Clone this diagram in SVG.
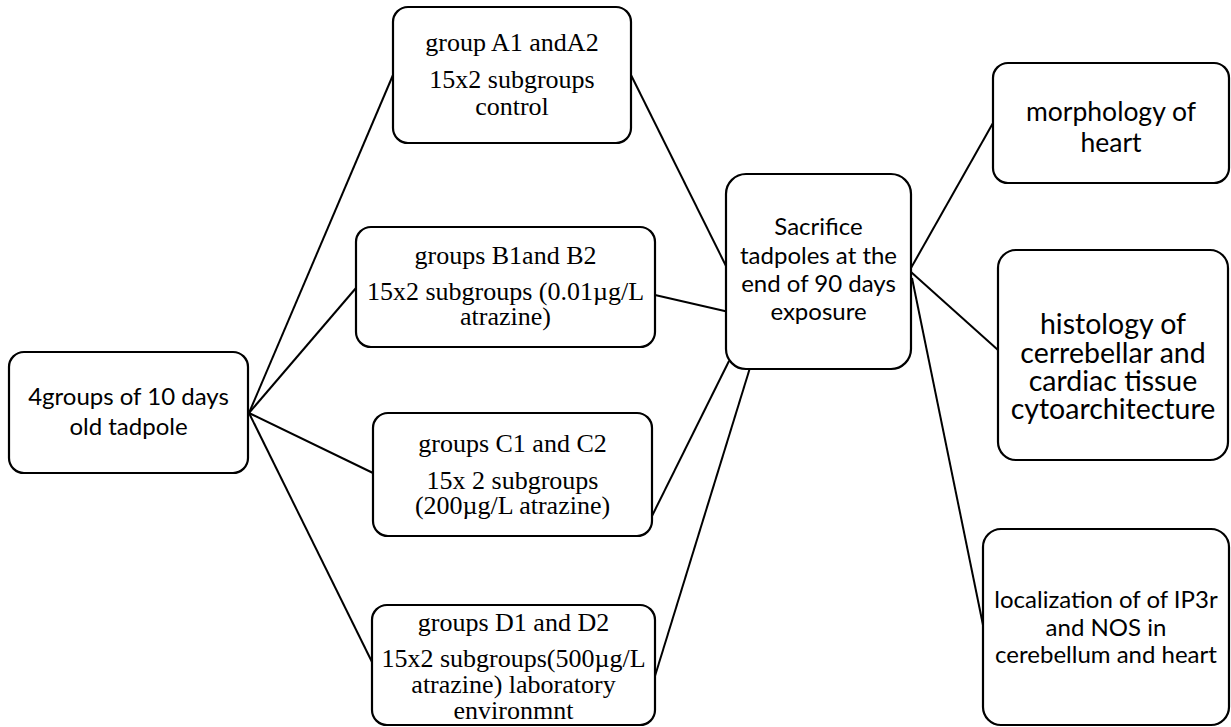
<svg xmlns="http://www.w3.org/2000/svg" width="1231" height="727" viewBox="0 0 1231 727">
<style>
.box{fill:#fff;stroke:#000;stroke-width:2.2}
.ser{font-family:"Liberation Serif","Times New Roman",serif;font-size:26px;fill:#000;text-anchor:middle}
.sans{font-family:Lato,"Liberation Sans",sans-serif;font-size:24px;fill:#000;text-anchor:middle}
.ln{stroke:#000;stroke-width:2;fill:none}
</style>
<rect width="1231" height="727" fill="#fff"/>
<g id="connectors">
<line class="ln" x1="249" y1="413" x2="393" y2="75"/>
<line class="ln" x1="249" y1="413" x2="356" y2="288"/>
<line class="ln" x1="249" y1="413" x2="373" y2="473"/>
<line class="ln" x1="249" y1="413" x2="372" y2="662"/>
<line class="ln" x1="631" y1="75" x2="727" y2="268"/>
<line class="ln" x1="655" y1="295" x2="729" y2="312"/>
<line class="ln" x1="652" y1="516" x2="729" y2="361"/>
<line class="ln" x1="655" y1="676" x2="753" y2="358"/>
<line class="ln" x1="911" y1="268" x2="993" y2="123"/>
<line class="ln" x1="911" y1="272" x2="998" y2="350"/>
<line class="ln" x1="912" y1="278" x2="983" y2="625"/>
</g>
<g id="start">
<rect class="box" x="9" y="352" width="239" height="121" rx="15"/>
<text class="sans" x="128.5" y="405">4groups of 10 days</text>
<text class="sans" x="128.5" y="435">old tadpole</text>
</g>
<g id="groupA">
<rect class="box" x="393" y="7" width="238" height="136" rx="15"/>
<text class="ser" x="512" y="51">group A1 andA2</text>
<text class="ser" x="512" y="88">15x2 subgroups</text>
<text class="ser" x="512" y="115">control</text>
</g>
<g id="groupB">
<rect class="box" x="356" y="227" width="299" height="120" rx="15"/>
<text class="ser" x="505.5" y="264">groups B1and B2</text>
<text class="ser" x="505.5" y="300">15x2 subgroups (0.01µg/L</text>
<text class="ser" x="505.5" y="325">atrazine)</text>
</g>
<g id="groupC">
<rect class="box" x="373" y="413" width="279" height="123" rx="15"/>
<text class="ser" x="512.5" y="452">groups C1 and C2</text>
<text class="ser" x="512.5" y="489">15x 2 subgroups</text>
<text class="ser" x="512.5" y="514">(200µg/L atrazine)</text>
</g>
<g id="groupD">
<rect class="box" x="372" y="605" width="283" height="120" rx="15"/>
<text class="ser" x="513.5" y="631">groups D1 and D2</text>
<text class="ser" x="513.5" y="667">15x2 subgroups(500µg/L</text>
<text class="ser" x="513.5" y="693">atrazine) laboratory</text>
<text class="ser" x="513.5" y="719">environmnt</text>
</g>
<g id="sacrifice">
<rect class="box" x="726" y="174" width="185" height="195" rx="20"/>
<text class="sans" x="818.5" y="235">Sacrifice</text>
<text class="sans" x="818.5" y="264">tadpoles at the</text>
<text class="sans" x="818.5" y="292">end of 90 days</text>
<text class="sans" x="818.5" y="320">exposure</text>
</g>
<g id="morphology">
<rect class="box" x="993" y="63" width="236" height="120" rx="15"/>
<text class="sans" x="1111" y="121" style="font-size:26.5px">morphology of</text>
<text class="sans" x="1111" y="152" style="font-size:26.5px">heart</text>
</g>
<g id="histology">
<rect class="box" x="998" y="250" width="230" height="210" rx="18"/>
<text class="sans" x="1113" y="334" style="font-size:28.5px">histology of</text>
<text class="sans" x="1113" y="363" style="font-size:28.5px">cerrebellar and</text>
<text class="sans" x="1113" y="391" style="font-size:28.5px">cardiac tissue</text>
<text class="sans" x="1113" y="419" style="font-size:28.5px">cytoarchitecture</text>
</g>
<g id="localization">
<rect class="box" x="983" y="529" width="246" height="196" rx="18"/>
<text class="sans" x="1106" y="608">localization of of IP3r</text>
<text class="sans" x="1106" y="636">and NOS in</text>
<text class="sans" x="1106" y="663">cerebellum and heart</text>
</g>
</svg>
